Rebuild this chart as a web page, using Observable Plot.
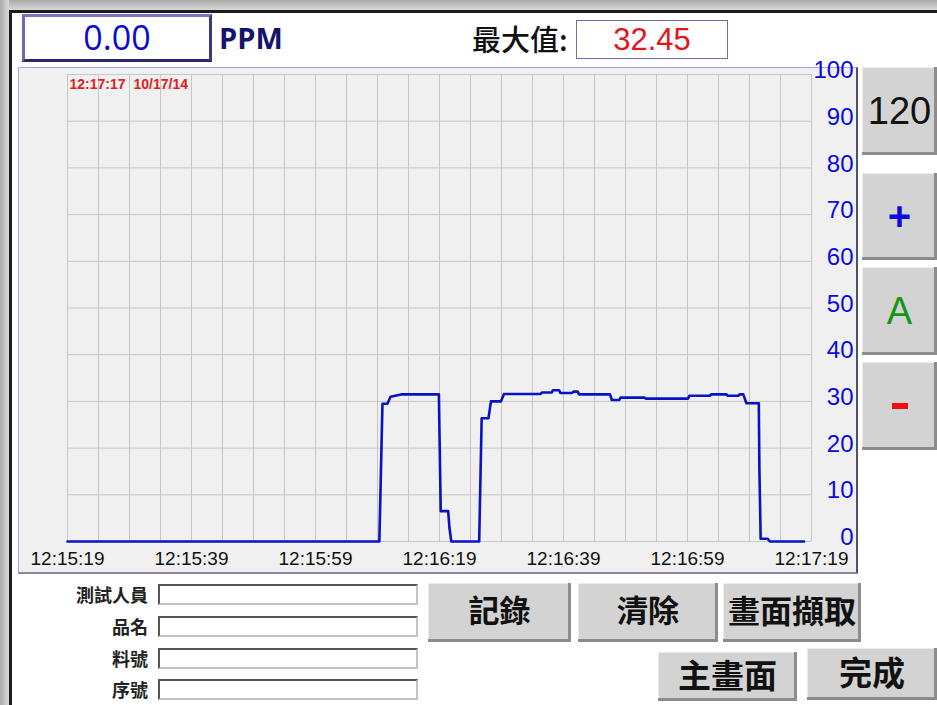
<!DOCTYPE html>
<html>
<head>
<meta charset="utf-8">
<script src="https://cdn.jsdelivr.net/npm/d3@7"></script>
<script src="https://cdn.jsdelivr.net/npm/@observablehq/plot@0.6"></script>
<style>
  html, body { margin: 0; padding: 0; }
  body { width: 937px; height: 705px; position: relative; overflow: hidden; background: #fff;
         font-family: "Liberation Sans", Arial, sans-serif; }
  .abs { position: absolute; box-sizing: border-box; }
  .cjk { font-family: "Noto Sans CJK TC", "Noto Sans CJK SC", sans-serif; }
  .btn { background: #d3d3d3; box-shadow: inset -3px -3px 0 #8c8c8c, inset 1px 1px 0 #ececec;
         display: flex; align-items: center; justify-content: center; color: #111; }
  .cbtn { padding-bottom: 8px; font-size: 31px; font-weight: 700; white-space: nowrap; }
  .field { background: #fff; border: 2px solid; border-color: #555 #c4c4c4 #c4c4c4 #555; }
  .lbl { text-align: right; font-size: 18px; font-weight: 700; color: #222; width: 120px; line-height: 20px; }
</style>
</head>
<body>
<div class="abs" style="left:0;top:0;width:937px;height:10px;background:linear-gradient(#a9a9a9,#d9d9d9);"></div>
<div class="abs" style="left:0;top:0;width:9px;height:705px;background:linear-gradient(90deg,#a9a9a9,#dadada);"></div>
<div class="abs" style="left:9px;top:10px;width:928px;height:3px;background:#1c1c1c;"></div>
<div class="abs" style="left:9px;top:10px;width:3px;height:695px;background:#1c1c1c;"></div>

<!-- current value -->
<div class="abs" style="left:22px;top:14px;width:190px;height:48px;border:3px solid;border-color:#7676c4 #3a3a80 #2a2a6a #6a6ab8;background:#fff;
     font-family:'Open Sans',sans-serif;font-size:34px;color:#0a0ad8;text-align:center;line-height:40px;">0.00</div>
<div class="abs" style="left:219px;top:18px;font-family:'Open Sans',sans-serif;font-weight:700;font-size:29px;color:#14146e;line-height:40px;">PPM</div>

<!-- max -->
<div class="abs cjk" style="left:472px;top:16px;font-size:29px;font-weight:500;color:#111;line-height:44px;">最大值:</div>
<div class="abs" style="left:576px;top:20px;width:152px;height:39px;border:1.5px solid #6e6ea6;background:#fff;
     font-size:31px;color:#e4141c;text-align:center;line-height:37px;">32.45</div>

<!-- chart panel -->
<div class="abs" style="left:18px;top:67px;width:840px;height:507px;background:#f0f0f0;border-style:solid;border-width:1px 2px 2px 1px;border-color:#a2a2e4 #50506e #8a8aa8 #a2a2e4;"></div>
<div id="chart" class="abs" style="left:18px;top:67px;"></div>

<!-- right buttons -->
<div class="abs btn" style="left:862px;top:67px;width:75px;height:88px;font-size:38px;">120</div>
<div class="abs btn" style="left:862px;top:173px;width:75px;height:87px;font-size:40px;font-weight:700;color:#0a0ae0;">+</div>
<div class="abs btn" style="left:862px;top:267px;width:75px;height:88px;font-size:38px;color:#149614;">A</div>
<div class="abs btn" style="left:862px;top:362px;width:75px;height:88px;"><div style="width:16px;height:6px;background:#f01010;"></div></div>

<!-- form -->
<div class="abs lbl cjk" style="left:28px;top:584px;">測試人員</div>
<div class="abs lbl cjk" style="left:28px;top:616px;">品名</div>
<div class="abs lbl cjk" style="left:28px;top:648px;">料號</div>
<div class="abs lbl cjk" style="left:28px;top:679px;">序號</div>
<div class="abs field" style="left:158px;top:584px;width:260px;height:21px;"></div>
<div class="abs field" style="left:158px;top:616px;width:260px;height:21px;"></div>
<div class="abs field" style="left:158px;top:648px;width:260px;height:21px;"></div>
<div class="abs field" style="left:158px;top:679px;width:260px;height:21px;"></div>

<!-- bottom buttons -->
<div class="abs btn cjk cbtn" style="left:428px;top:583px;width:143px;height:59px;">記錄</div>
<div class="abs btn cjk cbtn" style="left:578px;top:583px;width:140px;height:59px;">清除</div>
<div class="abs btn cjk cbtn" style="left:723px;top:583px;width:138px;height:59px;font-size:32px;">畫面擷取</div>
<div class="abs btn cjk cbtn" style="left:658px;top:652px;width:139px;height:49px;font-size:33px;padding-bottom:6px;">主畫面</div>
<div class="abs btn cjk cbtn" style="left:807px;top:648px;width:130px;height:52px;font-size:33px;padding-bottom:6px;">完成</div>

<script>
// ---- data ----
const tickSeconds = [0, 20, 40, 60, 80, 100, 120];
const tickLabels = ["12:15:19", "12:15:39", "12:15:59", "12:16:19", "12:16:39", "12:16:59", "12:17:19"];
const yTicks = [0, 10, 20, 30, 40, 50, 60, 70, 80, 90, 100];
const stampTime = "12:17:17";
const stampDate = "10/17/14";
// seconds since 12:15:19
const seconds = [0, 50.3, 50.8, 51.6, 52.1, 53.8, 59.9, 60.2, 61.4, 61.6, 61.9, 66.4, 66.8, 67.9, 68.3, 69.9, 70.4,
  76.3, 76.5, 78.1, 78.3, 79.3, 79.5, 81.4, 81.6, 82.3, 82.5, 87.5, 87.8, 89.0, 89.2, 93.1, 93.3, 100.1, 100.3,
  103.6, 103.8, 106.3, 106.5, 108.2, 108.4, 109.0, 109.5, 111.5, 111.6, 111.8, 112.9, 113.3, 118.8];
const ppm = [0, 0, 29.5, 29.5, 31.0, 31.5, 31.5, 6.5, 6.5, 3.0, 0, 0, 26.4, 26.4, 30.0, 30.0, 31.6,
  31.6, 31.9, 31.9, 32.4, 32.4, 31.8, 31.8, 32.1, 32.1, 31.5, 31.5, 30.3, 30.3, 30.8, 30.8, 30.6, 30.6, 31.2,
  31.2, 31.5, 31.5, 31.2, 31.2, 31.5, 31.5, 29.6, 29.6, 15.2, 0.6, 0.6, 0, 0];

const points = seconds.map((t, i) => ({t, v: ppm[i]}));
const labelOf = new Map(tickSeconds.map((s, i) => [s, tickLabels[i]]));

const chart = Plot.plot({
  width: 840,
  height: 506,
  marginLeft: 49,
  marginRight: 47,
  marginTop: 7,
  marginBottom: 32,
  style: {background: "transparent", overflow: "visible", fontFamily: "'Liberation Sans', Arial, sans-serif"},
  x: {domain: [0, 120], label: null},
  y: {domain: [0, 100], label: null},
  marks: [
    Plot.gridX(d3.range(0, 121, 5), {stroke: "#c6c6c6", strokeOpacity: 1}),
    Plot.gridY(yTicks, {stroke: "#c6c6c6", strokeOpacity: 1}),
    Plot.axisX(tickSeconds, {label: null, tickSize: 0, tickPadding: 10, fontSize: 19, fill: "#111", tickFormat: d => labelOf.get(d)}),
    Plot.axisY(yTicks, {label: null, anchor: "right", tickSize: 0, tickPadding: 42, textAnchor: "end", dy: -4, fontSize: 24, fill: "#0a0ae0"}),
    Plot.line(points, {x: "t", y: "v", stroke: "#0a12c6", strokeWidth: 2.6}),
    Plot.text([stampTime], {frameAnchor: "top-left", dx: 2, dy: 5, fontSize: 14, fontWeight: "bold", fill: "#e02020", text: d => d}),
    Plot.text([stampDate], {frameAnchor: "top-left", dx: 66, dy: 5, fontSize: 14, fontWeight: "bold", fill: "#e02020", text: d => d})
  ]
});
document.getElementById("chart").appendChild(chart);
</script>
</body>
</html>
